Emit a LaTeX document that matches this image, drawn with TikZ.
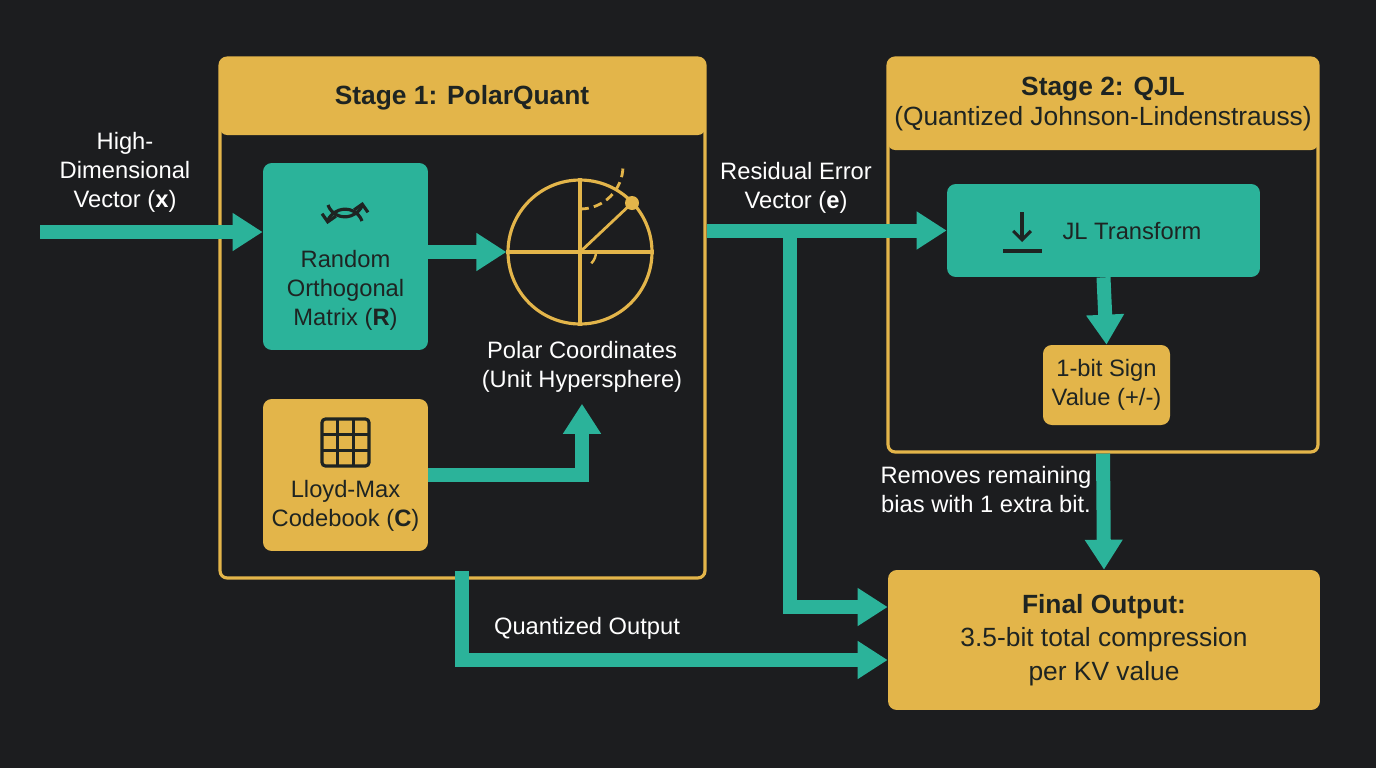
\documentclass[tikz,border=0pt]{standalone}
\usepackage{fontspec}
\setmainfont{Liberation Sans}
\usetikzlibrary{arrows.meta,positioning}
\definecolor{bgdark}{HTML}{1C1D1F}
\definecolor{gold}{HTML}{E3B54A}
\definecolor{teal}{HTML}{2BB39A}
\definecolor{ink}{HTML}{1E2422}
\tikzset{
  flow/.style={teal,line width=0.28cm,-{Triangle[width=0.72cm,length=0.6cm]}},
  stage/.style={draw=gold,line width=1.8pt,rounded corners=4pt},
  head/.style={fill=gold,rounded corners=4pt,font=\bfseries\fontsize{15}{18}\selectfont,text=ink,align=center},
  tbox/.style={fill=teal,rounded corners=5pt,text=ink,align=center,font=\fontsize{13.5}{16.5}\selectfont},
  gbox/.style={fill=gold,rounded corners=5pt,text=ink,align=center,font=\fontsize{13.5}{16.5}\selectfont},
  lbl/.style={text=white,align=center,font=\fontsize{13.5}{16.5}\selectfont},
  icon/.style={ink,line width=1.8pt}
}
\begin{document}
\begin{tikzpicture}[x=0.02cm,y=-0.02cm]
% background
\fill[bgdark] (0,0) rectangle (1376,768);
\useasboundingbox (0,0) rectangle (1376,768);
% stage frames
\fill[gold,rounded corners=4pt] (220,58) rectangle (705,135);
\node[stage,minimum width=9.7cm,minimum height=10.4cm] (s1) at (462.5,318) {};
\node[head] (s1head) at (462,98) {Stage 1: PolarQuant};
\fill[gold,rounded corners=4pt] (888,58) rectangle (1318,150);
\node[stage,minimum width=8.6cm,minimum height=7.88cm] (s2) at (1103,255) {};
\node[head] (s2head) at (1103,104) {Stage 2: QJL\\[-1pt]{\mdseries (Quantized Johnson-Lindenstrauss)}};
% boxes
\node[tbox,minimum width=3.3cm,minimum height=3.74cm,text depth=0pt] (rand) at (345.5,256.5) {};
\node[tbox] (randtxt) at (345.5,290) {Random\\Orthogonal\\Matrix (\textbf{R})};
\node[gbox,minimum width=3.3cm,minimum height=3.04cm] (lloyd) at (345.5,475) {};
\node[gbox] (lloydtxt) at (345.5,506) {Lloyd-Max\\Codebook (\textbf{C})};
\node[draw=gold,line width=1.8pt,circle,minimum size=2.88cm] (polar) at (580,252) {};
\node[lbl] (polartxt) at (582,367) {Polar Coordinates\\(Unit Hypersphere)};
\node[tbox,minimum width=6.26cm,minimum height=1.86cm] (jl) at (1103.5,230.5) {};
\node[tbox] (jltxt) at (1132,231) {JL Transform};
\node[gbox,minimum width=2.54cm,minimum height=1.6cm] (sign) at (1106.5,385) {1-bit Sign\\Value (+/-)};
\node[gbox,minimum width=8.64cm,minimum height=2.8cm,font=\fontsize{15}{19}\selectfont] (final) at (1104,640)
  {\textbf{Final Output:}\\3.5-bit total compression\\per KV value};
% labels
\node[lbl] (inlbl) at (125,172) {High-\\Dimensional\\Vector (\textbf{x})};
\node[lbl] (reslbl) at (796,188) {Residual Error\\Vector (\textbf{e})};
\node[lbl] (qolbl) at (587,628) {Quantized Output};
\node[lbl] (biaslbl) at (986,490) {Removes remaining\\bias with 1 extra bit.};
% polar icon
\draw[gold,line width=1.8pt] (polar.north) -- (polar.south) (polar.west) -- (polar.east);
\draw[gold,line width=1.6pt] (polar.center) -- (632,203);
\fill[gold] (632,203) circle (7);
\draw[gold,line width=1.6pt,dash pattern=on 5pt off 3pt] (580,209) arc (90:0:43);
\draw[gold,line width=1.4pt] (596,252) arc (0:45:16);
% refresh icon
\draw[icon,-{Straight Barb[length=4pt]}] (328,205) arc (160:10:18);
\draw[icon,-{Straight Barb[length=4pt]}] (362,221) arc (-20:-170:18);
% grid icon
\draw[icon,rounded corners=2pt] (322,419) rectangle (369,466);
\foreach \k in {1,2} {
  \draw[icon] (322+15.7*\k,419) -- (322+15.7*\k,466);
  \draw[icon] (322,419+15.7*\k) -- (369,419+15.7*\k);
}
% download icon
\draw[icon,-{Straight Barb[length=5pt]}] (1022,212) -- (1022,242);
\draw[icon] (1003,251) -- (1042,251);
% connectors
\coordinate (in) at (40,232);
\coordinate (br) at (797,232);
\coordinate (qo) at (462,578);
\draw[flow] (in) -- (in -| rand.west);
\draw[flow] (rand.east |- polar.west) -- (polar.west);
\draw[flow] (lloyd.east) -| ([yshift=-0.1cm]polartxt.south);
\draw[flow] (s1.east |- jl.west) -- (jl.west);
\draw[flow] ([xshift=-0.14cm]br) |- ([yshift=0.66cm]final.west);
\draw[flow] ([yshift=0.14cm]qo) |- ([yshift=-0.4cm]final.west);
\draw[flow] (jl.south) -- (sign.north);
\draw[flow] (s2.south) -- (final.north);
\end{tikzpicture}
\end{document}
